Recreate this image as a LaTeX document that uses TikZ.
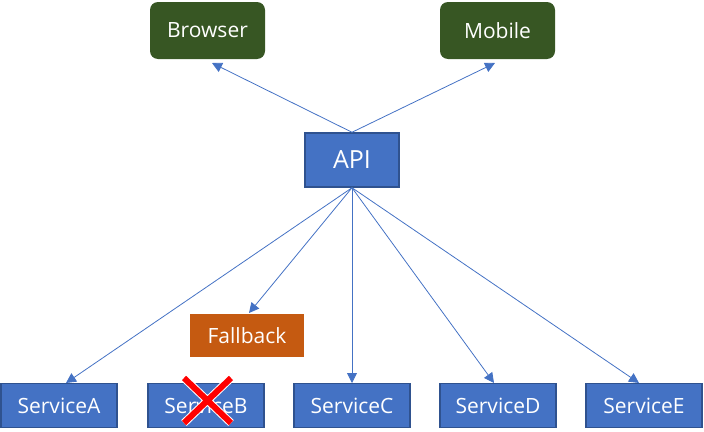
\documentclass[tikz,border=0pt]{standalone}
\usepackage{fontspec}
\setmainfont{Open Sans}
\usetikzlibrary{arrows.meta}
\definecolor{boxblue}{HTML}{4472C4}
\definecolor{edgeblue}{HTML}{2F528F}
\definecolor{clientgreen}{HTML}{375623}
\definecolor{fallbackorange}{HTML}{C55A11}
\begin{document}
\begin{tikzpicture}[x=1pt,y=-1pt,
  client/.style={fill=clientgreen, rounded corners=8pt, text=white, minimum width=115pt, minimum height=57pt, inner sep=0pt, font=\fontsize{21}{24}\selectfont},
  api/.style={fill=boxblue, draw=edgeblue, line width=1.5pt, text=white, minimum width=94pt, minimum height=54pt, inner sep=0pt, font=\fontsize{25}{28}\selectfont},
  service/.style={fill=boxblue, draw=edgeblue, line width=1.5pt, text=white, minimum width=116pt, minimum height=44pt, inner sep=0pt, font=\fontsize{21}{24}\selectfont},
  fallbackbox/.style={fill=fallbackorange, text=white, minimum width=114pt, minimum height=43pt, inner sep=0pt, font=\fontsize{21}{24}\selectfont},
  link/.style={draw=boxblue, line width=0.8pt, -{Triangle[length=10pt,width=10pt]}},
  cross/.style={line width=6pt}
]
\useasboundingbox (0,0) rectangle (704,431);
% clients
\node[client] (browser) at (207.5,30.5) {Browser};
\node[client] (mobile) at (497.5,30.5) {Mobile};
% gateway
\node[api] (api) at (352,160) {API};
% backend services
\node[service] (sa) at (59,405.5) {ServiceA};
\node[service] (sb) at (206,405.5) {ServiceB};
\node[service] (sc) at (352,405.5) {ServiceC};
\node[service] (sd) at (498,405.5) {ServiceD};
\node[service] (se) at (644,405.5) {ServiceE};
\node[fallbackbox] (fb) at (247,335.5) {Fallback};
% arrow end points
\coordinate (tb) at (212,63);
\coordinate (tm) at (495,63);
\coordinate (ta) at (66,383);
\coordinate (tfb) at (249,313);
\coordinate (tc) at (352,383);
\coordinate (td) at (494,383);
\coordinate (te) at (639,383);
\draw[link] (api.north) -- (tb);
\draw[link] (api.north) -- (tm);
\draw[link] (api.south) -- (ta);
\draw[link] (api.south) -- (tfb);
\draw[link] (api.south) -- (tc);
\draw[link] (api.south) -- (td);
\draw[link] (api.south) -- (te);
% failed service mark
\coordinate (x1) at (184,378);
\coordinate (x2) at (231,378);
\coordinate (x3) at (184,423);
\coordinate (x4) at (231,423);
\draw[cross, white, line width=8pt] (x1) -- (x4) (x2) -- (x3);
\draw[cross, red] (x1) -- (x4) (x2) -- (x3);
\end{tikzpicture}
\end{document}
